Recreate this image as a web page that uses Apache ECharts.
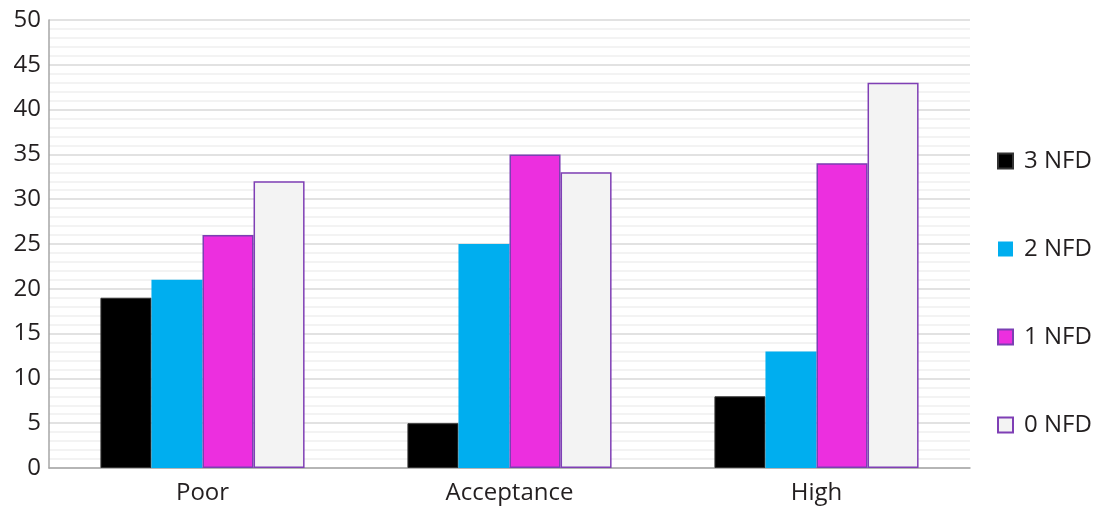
<!DOCTYPE html>
<html>
<head>
<meta charset="utf-8">
<script src="https://cdn.jsdelivr.net/npm/echarts@6/dist/echarts.min.js"></script>
<style>
  html, body { margin: 0; padding: 0; background: #fff; }
  #chart { width: 1093px; height: 507px; }
</style>
</head>
<body>
<div id="chart"></div>
<script>
const categories = ['Poor', 'Acceptance', 'High'];
const nfd3 = [19, 5, 8];
const nfd2 = [21, 25, 13];
const nfd1 = [26, 35, 34];
const nfd0 = [32, 33, 43];

const FONT = '"Open Sans", "Noto Sans", sans-serif';

const chart = echarts.init(document.getElementById('chart'));

function bar(name, data, fill, border, bw) {
  return {
    name: name,
    type: 'bar',
    data: data,
    barGap: '0%',
    barCategoryGap: '33.5%',
    itemStyle: { color: fill, borderColor: border, borderWidth: bw },
    emphasis: { disabled: true }
  };
}

chart.setOption({
  animation: false,
  grid: { left: 49, right: 123, top: 20, bottom: 39 },
  legend: {
    orient: 'vertical',
    left: 992,
    top: 144,
    itemGap: 64,
    itemWidth: 15,
    itemHeight: 15,
    icon: 'rect',
    textStyle: { fontFamily: FONT, fontSize: 24, color: '#231f20', padding: [0, 0, 0, 6] },
    data: ['3 NFD', '2 NFD', '1 NFD', '0 NFD']
  },
  xAxis: {
    type: 'category',
    data: categories,
    axisLine: { show: true, lineStyle: { color: '#a6a6a6', width: 1.5 } },
    axisTick: { show: false },
    axisLabel: { fontFamily: FONT, fontSize: 24, color: '#231f20', margin: 13 },
    splitLine: { show: false }
  },
  yAxis: {
    type: 'value',
    min: 0,
    max: 50,
    interval: 5,
    axisLine: { show: true, lineStyle: { color: '#a6a6a6', width: 1.5 } },
    axisTick: { show: false },
    axisLabel: { fontFamily: FONT, fontSize: 24, color: '#231f20', margin: 8 },
    splitLine: { show: true, lineStyle: { color: '#d9d9d9', width: 1.5 } },
    minorTick: { show: false, splitNumber: 5 },
    minorSplitLine: { show: true, lineStyle: { color: '#efefef', width: 1.5 } }
  },
  series: [
    bar('3 NFD', nfd3, '#000000', '#333333', 1),
    bar('2 NFD', nfd2, '#00aeef', '#00aeef', 0),
    bar('1 NFD', nfd1, '#ec2fdf', '#7b3fb3', 1.5),
    bar('0 NFD', nfd0, '#f3f3f3', '#7f3fb5', 1.5)
  ]
});
</script>
</body>
</html>
